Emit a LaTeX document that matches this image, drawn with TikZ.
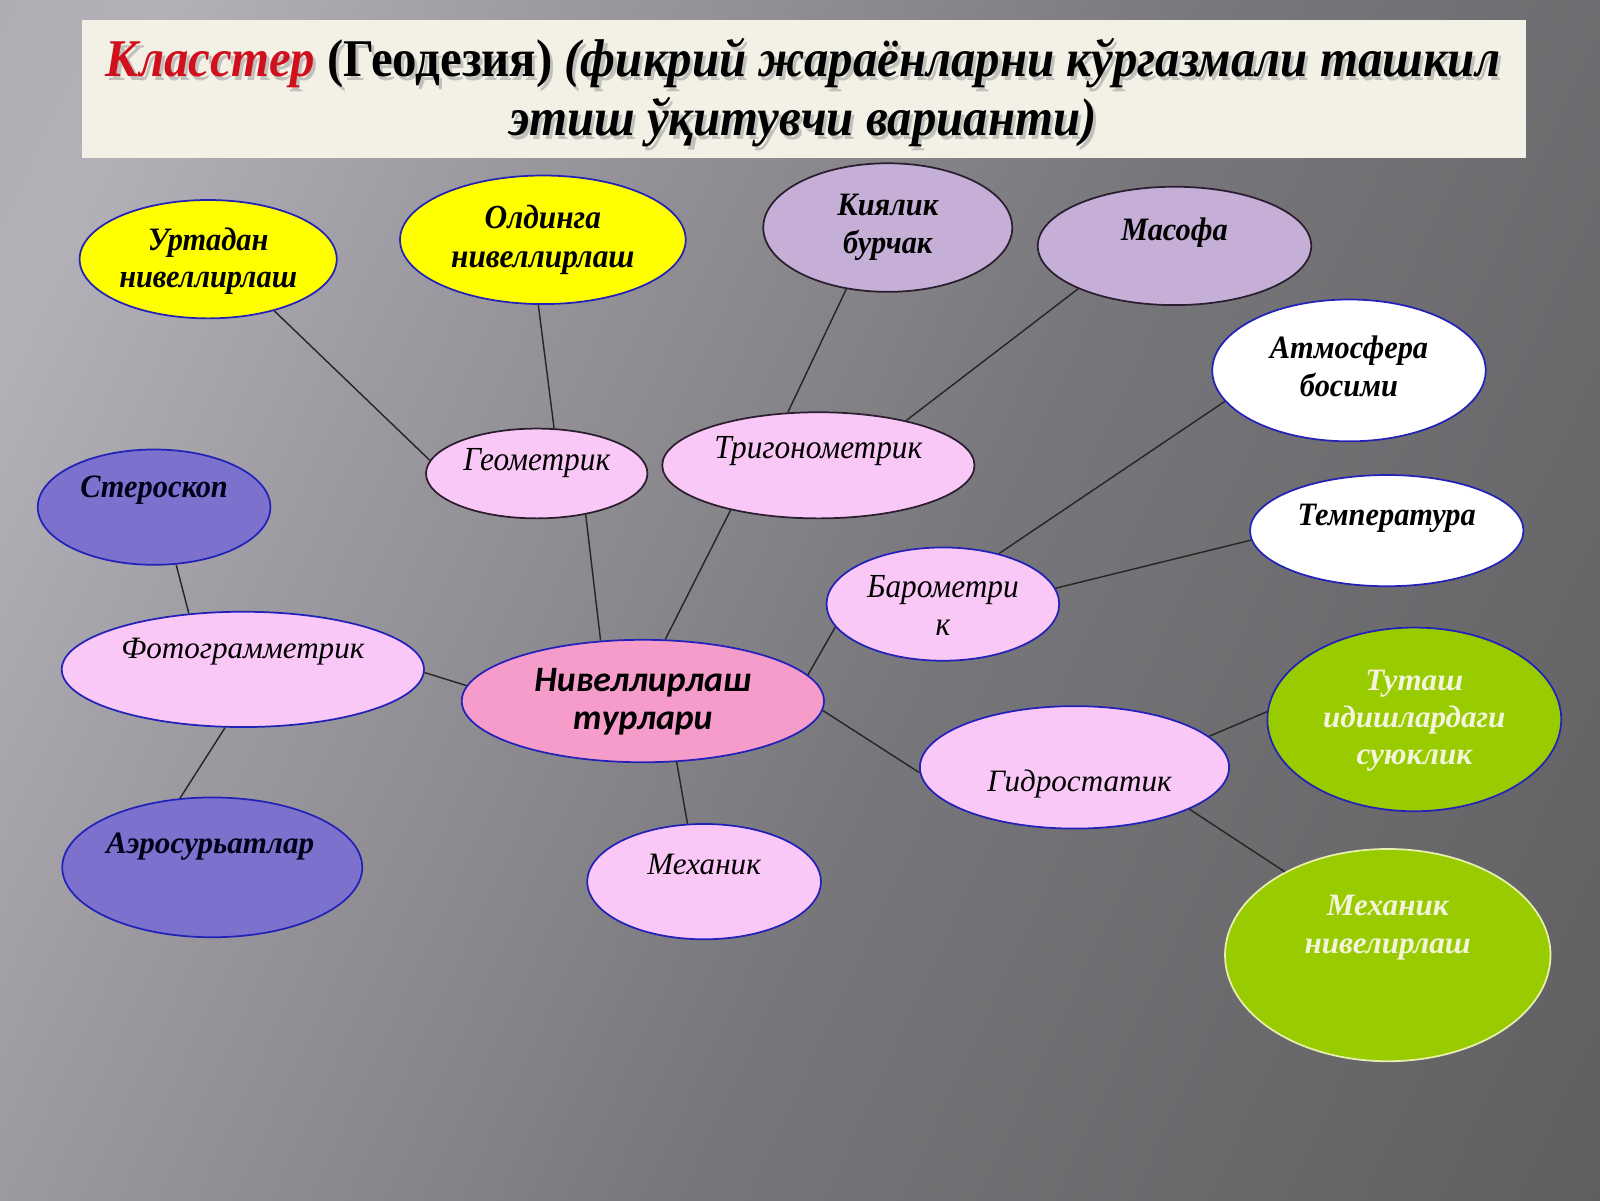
\documentclass[tikz,border=0pt]{standalone}
\usepackage{fontspec}
\setmainfont{Liberation Serif}
\newfontfamily\cserif[FakeStretch=0.93]{Liberation Serif}
\newfontfamily\tserif[FakeStretch=0.92]{Liberation Serif}
\newfontfamily\calib{Carlito}
\usetikzlibrary{shapes.geometric}
\definecolor{bgA}{HTML}{A3A0A8}
\definecolor{bgB}{HTML}{B3B0B8}
\definecolor{bgC}{HTML}{9C9AA0}
\definecolor{bgD}{HTML}{77767A}
\definecolor{bgE}{HTML}{515152}
\definecolor{titlebg}{HTML}{F3F1E6}
\definecolor{ttlred}{HTML}{D0101C}
\definecolor{yel}{HTML}{FFFF00}
\definecolor{lil}{HTML}{C6AFD6}
\definecolor{lpink}{HTML}{FAC8F6}
\definecolor{pink}{HTML}{F59CCB}
\definecolor{purp}{HTML}{7C72CE}
\definecolor{grn}{HTML}{99CC00}
\definecolor{bblue}{HTML}{2222B8}
\definecolor{dkb}{HTML}{2A1E30}
\definecolor{paleb}{HTML}{E8F0B0}
\definecolor{wtxt}{HTML}{F4F4DC}
\pgfdeclarehorizontalshading{bgshade}{100bp}{color(0bp)=(bgA); color(22bp)=(bgB); color(34bp)=(bgC); color(55bp)=(bgD); color(100bp)=(bgE)}
\begin{document}
\begin{tikzpicture}[x=1pt,y=-1pt,
  ell/.style={ellipse, draw, line width=1.7pt, inner sep=0pt},
  bl/.style={draw=bblue},
  dk/.style={draw=dkb},
  con/.style={draw=black!85, line width=1.4pt},
  tx/.style={inner sep=0pt, align=center, text=black},
  bfont/.style={font=\cserif\bfseries\itshape\fontsize{32}{37}\selectfont},
  ifont/.style={font=\cserif\itshape\fontsize{33}{37}\selectfont},
  ]
\useasboundingbox (0,0) rectangle (1568,1176);
\shade[shading=bgshade, shading angle=-25] (0,0) rectangle (1568,1176);
% title
\fill[titlebg] (80,20) rectangle (1495,155);
\node[tx, text=black!40, opacity=0.55, font=\tserif\bfseries\itshape\fontsize{52}{58}\selectfont] at (790,95)
 {Класстер {\upshape(Геодезия)} (фикрий жараёнларни кўргазмали ташкил\\ этиш ўқитувчи варианти)};
\node[tx, font=\tserif\bfseries\itshape\fontsize{52}{58}\selectfont] (title) at (787,91)
 {{\color{ttlred}Класстер} {\upshape(Геодезия)} (фикрий жараёнларни кўргазмали ташкил\\ этиш ўқитувчи варианти)};
% ellipses
\node[ell, bl, fill=yel, minimum width=252pt, minimum height=116pt] (urt) at (204,254) {};
\node[ell, bl, fill=yel, minimum width=280pt, minimum height=126pt] (old) at (532,235) {};
\node[ell, dk, fill=lil, minimum width=244pt, minimum height=126pt] (kiy) at (870,223) {};
\node[ell, dk, fill=lil, minimum width=268pt, minimum height=116pt] (mas) at (1151,241) {};
\node[ell, bl, fill=white, minimum width=268pt, minimum height=139pt] (atm) at (1322,363) {};
\node[ell, bl, fill=white, minimum width=268pt, minimum height=109pt] (tem) at (1359,520) {};
\node[ell, bl, fill=grn, minimum width=288pt, minimum height=180pt] (tut) at (1386,705) {};
\node[ell, draw=paleb, fill=grn, minimum width=319pt, minimum height=208pt] (mnv) at (1360,936) {};
\node[ell, bl, fill=lpink, minimum width=303pt, minimum height=120pt] (gid) at (1053,752) {};
\node[ell, bl, fill=lpink, minimum width=228pt, minimum height=111pt] (bar) at (924,592) {};
\node[ell, dk, fill=lpink, minimum width=306pt, minimum height=104pt] (tri) at (802,456) {};
\node[ell, dk, fill=lpink, minimum width=217pt, minimum height=88pt] (geo) at (526,464) {};
\node[ell, bl, fill=pink, minimum width=355pt, minimum height=120pt] (niv) at (630,687) {};
\node[ell, bl, fill=lpink, minimum width=229pt, minimum height=113pt] (mex) at (690,864) {};
\node[ell, bl, fill=lpink, minimum width=355pt, minimum height=113pt] (fot) at (238,656) {};
\node[ell, bl, fill=purp, minimum width=228pt, minimum height=113pt] (ste) at (151,497) {};
\node[ell, bl, fill=purp, minimum width=294pt, minimum height=137pt] (aer) at (208,850) {};
% connectors
\draw[con] (urt.-38) -- (geo.173.5);
\draw[con] (old.-94.8) -- (geo.69);
\draw[con] (kiy.-124.3) -- (tri.120);
\draw[con] (mas.-156.7) -- (tri.27.7);
\draw[con] (atm.-166.3) -- (bar.42.4);
\draw[con] (tem.-176.6) -- (bar.8.2);
\draw[con] (bar.-168) -- (niv.9.5);
\draw[con] (geo.-40) -- (niv.125.6);
\draw[con] (tri.-153.9) -- (niv.70.2);
\draw[con] (fot.-1.9) -- (niv.175.8);
\draw[con] (niv.-3.9) -- (gid.-178.1);
\draw[con] (niv.-61.9) -- (mex.106.9);
\draw[con] (gid.13.7) -- (tut.177.5);
\draw[con] (gid.-20.2) -- (mnv.141.4);
\draw[con] (ste.-69.8) -- (fot.134.5);
\draw[con] (fot.-107.8) -- (aer.115.3);
% texts
\node[tx, bfont] (urtT) at (204,256) {Уртадан\\нивеллирлаш};
\node[tx, font=\cserif\bfseries\itshape\fontsize{33}{38}\selectfont] (oldT) at (532,235) {Олдинга\\нивеллирлаш};
\node[tx, bfont] (kiyT) at (870,223) {Киялик\\бурчак};
\node[tx, bfont] (masT) at (1151,228) {Масофа};
\node[tx, bfont] (atmT) at (1322,359) {Атмосфера\\босими};
\node[tx, bfont] (temT) at (1359,508) {Температура};
\node[tx, text=wtxt, font=\bfseries\itshape\fontsize{30.5}{36.5}\selectfont] (tutT) at (1386,706) {Туташ\\идишлардаги\\суюклик};
\node[tx, text=wtxt, font=\bfseries\itshape\fontsize{30.5}{37}\selectfont] (mnvT) at (1360,909) {Механик\\нивелирлаш};
\node[tx, font=\itshape\fontsize{30.5}{37}\selectfont] (gidT) at (1058,768) {Гидростатик};
\node[tx, ifont] (barT) at (924,593) {Барометри\\к};
\node[tx, ifont] (triT) at (802,442) {Тригонометрик};
\node[tx, ifont] (geoT) at (526,454) {Геометрик};
\node[tx, font=\calib\bfseries\itshape\fontsize{35}{37}\selectfont] (nivT) at (630,688) {Нивеллирлаш\\турлари};
\node[tx, font=\itshape\fontsize{30.5}{37}\selectfont] (mexT) at (690,847) {Механик};
\node[tx, font=\itshape\fontsize{30.5}{37}\selectfont] (fotT) at (238,639) {Фотограмметрик};
\node[tx, text=black!90!blue, bfont] (steT) at (151,480) {Стероскоп};
\node[tx, text=black!90!blue, font=\bfseries\itshape\fontsize{30.5}{37}\selectfont] (aerT) at (206,830) {Аэросурьатлар};
\end{tikzpicture}
\end{document}
